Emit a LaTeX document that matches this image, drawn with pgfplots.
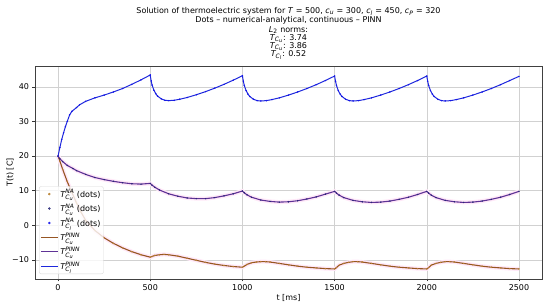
\documentclass[border=0pt]{standalone}
\usepackage{fontspec}
\setmainfont{DejaVu Sans}
\usepackage{amsmath}
\usepackage{pgfplots}
\pgfplotsset{compat=1.18}
\usepackage{pgfplotstable}

\newcommand{\mi}[1]{\textit{#1}}

\definecolor{brline}{RGB}{150,85,35}
\definecolor{brdot}{RGB}{185,130,50}
\definecolor{puline}{RGB}{95,50,150}
\definecolor{pudot}{RGB}{40,40,120}
\definecolor{blline}{RGB}{30,40,220}
\definecolor{bldot}{RGB}{20,20,235}
\definecolor{pinkband}{RGB}{255,232,248}

\pgfplotstableread{
t T
0 20.0
10 18.5
25 16.2
50 12.6
75 9.5
100 6.5
125 3.8
150 1.4
200 -1.5
250 -3.6
300 -5.2
350 -6.5
400 -7.6
450 -8.5
500 -9.2
510 -9.0
525 -8.7
550 -8.5
575 -8.4
600 -8.5
650 -8.9
700 -9.5
750 -10.1
800 -10.7
850 -11.2
900 -11.6
950 -11.9
1000 -12.1
1010 -11.8
1025 -11.3
1050 -10.8
1075 -10.6
1100 -10.5
1125 -10.5
1150 -10.6
1200 -11.0
1250 -11.4
1300 -11.8
1350 -12.1
1400 -12.3
1450 -12.5
1500 -12.6
1510 -12.2
1525 -11.5
1550 -11.0
1575 -10.7
1600 -10.5
1625 -10.5
1650 -10.6
1700 -11.0
1750 -11.4
1800 -11.8
1850 -12.1
1900 -12.3
1950 -12.5
2000 -12.6
2010 -12.2
2025 -11.5
2050 -11.0
2075 -10.7
2100 -10.5
2125 -10.5
2150 -10.6
2200 -11.0
2250 -11.4
2300 -11.8
2350 -12.1
2400 -12.3
2450 -12.5
2500 -12.6
}\tcu

\pgfplotstableread{
t T
0 20.0
10 19.2
25 18.4
50 17.3
81 16.4
100 15.8
150 14.7
200 13.8
250 13.2
300 12.7
350 12.3
400 12.0
450 11.9
500 12.1
510 11.6
525 11.0
550 10.2
600 9.1
650 8.4
700 7.9
750 7.7
800 7.7
850 8.0
900 8.5
950 9.1
1000 9.9
1010 9.4
1025 8.8
1050 8.1
1100 7.3
1150 6.9
1200 6.7
1250 6.8
1300 7.1
1350 7.6
1400 8.2
1450 9.0
1500 9.8
1510 9.3
1525 8.7
1550 8.0
1600 7.2
1650 6.8
1700 6.6
1750 6.7
1800 7.0
1850 7.5
1900 8.1
1950 8.9
2000 9.8
2010 9.3
2025 8.7
2050 8.0
2100 7.2
2150 6.8
2200 6.6
2250 6.7
2300 7.0
2350 7.5
2400 8.1
2450 8.9
2500 9.8
}\tcv

\pgfplotstableread{
t T
0 20.0
10 22.5
20 24.8
30 26.7
40 28.5
50 30.0
63 31.9
75 32.9
100 34.0
117 34.8
150 35.8
200 36.8
250 37.6
300 38.5
350 39.5
400 40.7
450 42.0
500 43.4
505 41.7
510 40.5
520 39.0
530 38.0
540 37.3
560 36.5
580 36.1
600 36.0
630 36.1
660 36.4
700 36.9
750 37.7
800 38.6
850 39.6
900 40.7
950 41.9
1000 43.2
1005 41.6
1010 40.4
1020 38.9
1030 37.9
1040 37.2
1060 36.4
1080 36.0
1100 35.9
1130 36.0
1160 36.3
1200 36.8
1250 37.6
1300 38.5
1350 39.5
1400 40.6
1450 41.8
1500 43.1
1505 41.6
1510 40.4
1520 38.9
1530 37.9
1540 37.2
1560 36.4
1580 36.0
1600 35.9
1630 36.0
1660 36.3
1700 36.8
1750 37.6
1800 38.5
1850 39.5
1900 40.6
1950 41.8
2000 43.1
2005 41.6
2010 40.4
2020 38.9
2030 37.9
2040 37.2
2060 36.4
2080 36.0
2100 35.9
2130 36.0
2160 36.3
2200 36.8
2250 37.6
2300 38.5
2350 39.5
2400 40.6
2450 41.8
2500 43.0
}\tcl

\begin{document}
\begin{tikzpicture}
\begin{axis}[
  scale only axis, width=507pt, height=213pt,
  xmin=-125, xmax=2625, ymin=-15.5, ymax=46,
  xtick={0,500,1000,1500,2000,2500},
  xticklabels={0,500,1000,1500,2000,2500},
  ytick={-10,0,10,20,30,40},
  yticklabels={−10,0,10,20,30,40},
  tick label style={font=\fontsize{8}{9}\selectfont},
  grid=major, major grid style={black!18, line width=0.5pt},
  tick align=outside, tick pos=left, major tick length=2.5pt,
  tick style={black!80, line width=0.5pt},
  axis line style={black!75, line width=0.5pt},
  xlabel={t [ms]}, ylabel={T(t) [C]},
  label style={font=\fontsize{8}{9}\selectfont},
  xlabel style={at={(axis description cs:0.5,-0.089)}, anchor=center},
  ylabel style={at={(axis description cs:-0.049,0.5)}, anchor=center},
  title={Solution of thermoelectric system for \mi{T} = 500, \mi{c}\textsubscript{\mi{u}} = 300, \mi{c}\textsubscript{\mi{l}} = 450, \mi{c}\textsubscript{\mi{P}} = 320\\[-0.5pt]
    Dots – numerical-analytical, continuous – PINN\\[-0.5pt]
    \mi{L}\textsubscript{2} norms:\\[-1.5pt]
    $\mi{T}_{\mi{C}_{\mi{u}}}$: 3.74\\[-1.5pt]
    $\mi{T}_{\mi{C}_{\mi{u}}}$: 3.86\\[-1.5pt]
    $\mi{T}_{\mi{C}_{\mi{l}}}$: 0.52},
  title style={align=center, font=\fontsize{8}{9.6}\selectfont, yshift=-2pt, inner sep=2pt},
  legend style={at={(0.008,0.023)}, anchor=south west, draw=black!15, fill=white,
    fill opacity=0.8, text opacity=1, rounded corners=2pt,
    font=\fontsize{8}{9}\selectfont, inner sep=1pt, row sep=1.2pt},
  legend cell align=left,
]
\addplot[forget plot, pinkband, line width=4pt] table {\tcu};
\addplot[forget plot, pinkband, line width=4pt] table {\tcv};
\addplot[only marks, mark=*, mark size=0.5pt, brdot, legend image post style={mark size=1pt}] table {\tcu};
\addlegendentry{$\mi{T}^{\mi{NA}}_{\mi{C}_{\mi{u}}}$ (dots)}
\addplot[only marks, mark=*, mark size=0.5pt, pudot, legend image post style={mark size=1pt}] table {\tcv};
\addlegendentry{$\mi{T}^{\mi{NA}}_{\mi{C}_{\mi{u}}}$ (dots)}
\addplot[only marks, mark=*, mark size=0.5pt, bldot, legend image post style={mark size=1pt}] table {\tcl};
\addlegendentry{$\mi{T}^{\mi{NA}}_{\mi{C}_{\mi{l}}}$ (dots)}
\addplot[brline, line width=1.1pt, no marks] table {\tcu};
\addlegendentry{$\mi{T}^{\mi{PINN}}_{\mi{C}_{\mi{u}}}$}
\addplot[puline, line width=1.1pt, no marks] table {\tcv};
\addlegendentry{$\mi{T}^{\mi{PINN}}_{\mi{C}_{\mi{u}}}$}
\addplot[blline, line width=1pt, no marks] table {\tcl};
\addlegendentry{$\mi{T}^{\mi{PINN}}_{\mi{C}_{\mi{l}}}$}
\end{axis}
\pgfresetboundingbox
\useasboundingbox ([xshift=-35pt,yshift=-26pt]current axis.south west) rectangle ([xshift=8pt,yshift=66pt]current axis.north east);
\end{tikzpicture}
\end{document}
